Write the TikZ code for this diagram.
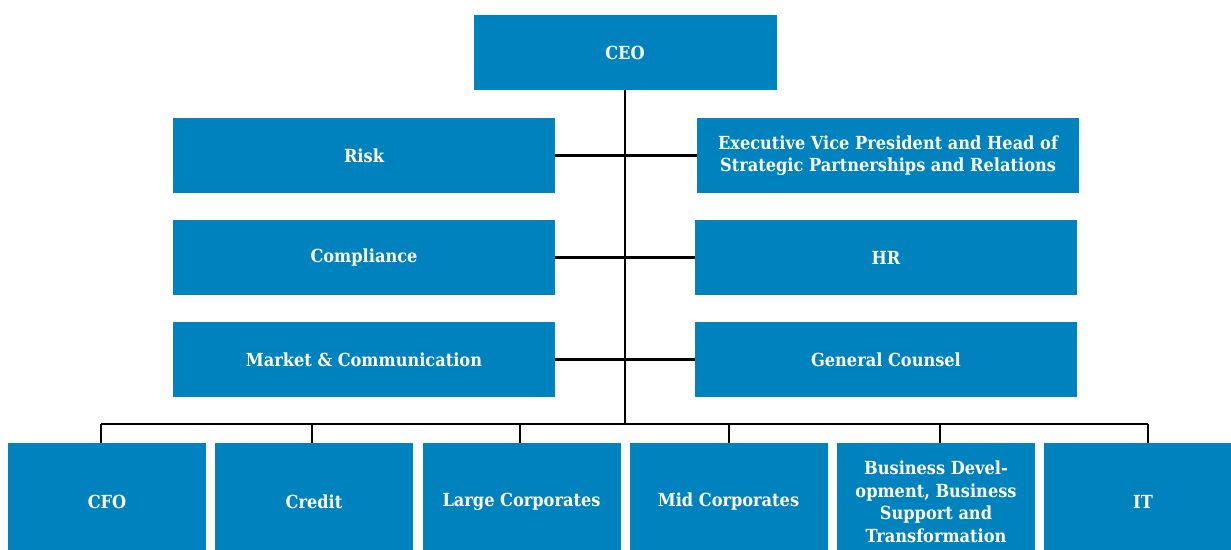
\documentclass[tikz,border=0pt]{standalone}
\usepackage{fontspec}
\setmainfont{DejaVu Serif Condensed}
\definecolor{unitblue}{RGB}{0,130,190}
\tikzset{
    unit/.style={fill=unitblue,text=white,font=\bfseries\fontsize{18}{22.5}\selectfont,
        align=center,inner sep=0pt,minimum height=75pt},
    staff/.style={unit,minimum width=382pt},
    branch/.style={unit,minimum width=198pt,minimum height=118pt},
    link/.style={draw=black,line width=2.8pt}
}
\begin{document}
\begin{tikzpicture}[x=1pt,y=-1pt]
        \useasboundingbox (0,0) rectangle (1231,549);
        %% top
        \node[unit,minimum width=303pt] (ceo) at (625,52.5) {CEO};
        %% staff functions
        \node[staff] (risk) at (364,155.5) {Risk};
        \node[staff] (evp) at (888,155.5) {Executive Vice President and Head of\\Strategic Partnerships and Relations};
        \node[staff] (comp) at (364,257.5) {Compliance};
        \node[staff] (hr) at (886,257.5) {HR};
        \node[staff] (mark) at (364,359.5) {Market \& Communication};
        \node[staff] (gc) at (886,359.5) {General Counsel};
        %% bus
        \coordinate (bus) at (ceo.south |- 0,424);
        \draw[link] (ceo.south) -- (bus);
        \foreach \l/\r in {risk/evp,comp/hr,mark/gc}
            \draw[link] (\l.east) -- (\l.east -| \r.west);
        %% business units
        \foreach \n/\x/\d/\t in {cfo/107/101/CFO,cred/314/312/Credit,large/521.5/520/Large Corporates,
                mid/728.5/729/Mid Corporates,bd/936/940/{Business Devel-\\opment, Business\\Support and\\Transformation},it/1143/1148/IT} {
            \node[branch] (\n) at (\x,502) {\t};
            \draw[link] (\d,0 |- bus) -- (\d,0 |- \n.north);
        }
        \draw[link] (101,0 |- bus) -- (1148,0 |- bus);
    \end{tikzpicture}
\end{document}
